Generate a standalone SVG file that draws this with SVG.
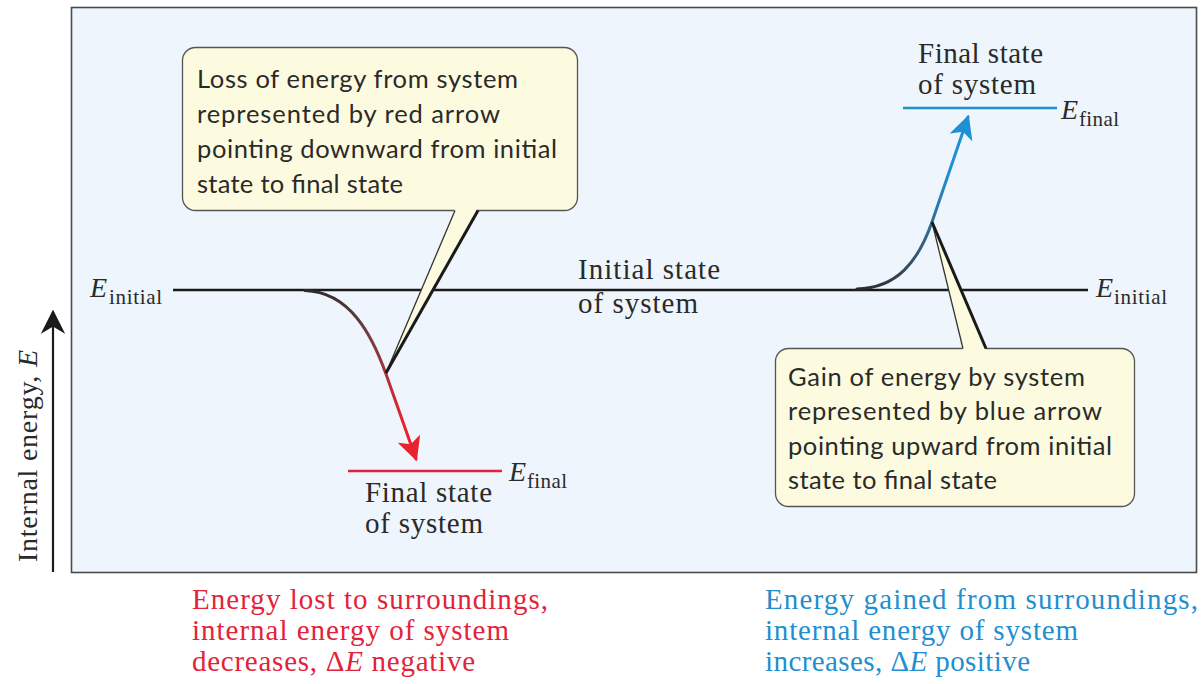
<svg xmlns="http://www.w3.org/2000/svg" width="1201" height="684" viewBox="0 0 1201 684">
  <defs>
    <style>
      .serif { font-family: "Liberation Serif", "Times New Roman", serif; fill: #2a2a2a; }
      .lbl { font-size: 29px; }
      .E { font-size: 28px; font-style: italic; }
      .sub { font-size: 21px; }
      .it { font-style: italic; }
      .cap { font-size: 29px; }
      .call { font-family: Lato, "Open Sans", sans-serif; font-size: 25.5px; fill: #2a2a2a; }
      .box { fill: #fdfbdf; stroke: #555; stroke-width: 1.3; }
      .red { fill: #e2233b; }
      .blue { fill: #1f8fcf; }
    </style>
    <linearGradient id="gRed" gradientUnits="userSpaceOnUse" x1="305" y1="290" x2="400" y2="420">
      <stop offset="0" stop-color="#2a2a2a"/>
      <stop offset="0.45" stop-color="#6e4040"/>
      <stop offset="1" stop-color="#e8222e"/>
    </linearGradient>
    <linearGradient id="gBlue" gradientUnits="userSpaceOnUse" x1="857" y1="289" x2="950" y2="170">
      <stop offset="0" stop-color="#2a2a2a"/>
      <stop offset="0.45" stop-color="#3a5a78"/>
      <stop offset="1" stop-color="#1e90d6"/>
    </linearGradient>
    <marker id="headRed" viewBox="0 0 10 10" refX="9" refY="5" markerWidth="8" markerHeight="8" markerUnits="strokeWidth" orient="auto">
      <path d="M0,0 L10,5 L0,10 L2.5,5 Z" fill="#e8222e"/>
    </marker>
    <marker id="headBlue" viewBox="0 0 10 10" refX="9" refY="5" markerWidth="8" markerHeight="8" markerUnits="strokeWidth" orient="auto">
      <path d="M0,0 L10,5 L0,10 L2.5,5 Z" fill="#1e90d6"/>
    </marker>
    <marker id="headAxis" viewBox="0 0 10 10" refX="9" refY="5" markerWidth="11" markerHeight="11" markerUnits="strokeWidth" orient="auto">
      <path d="M0,0 L10,5 L0,10 L3,5 Z" fill="#1a1a1a"/>
    </marker>
  </defs>

  <!-- panel -->
  <rect id="panel" x="71.5" y="7.5" width="1125" height="565" fill="#eef5fc" stroke="#4a4a4a" stroke-width="1.6"/>

  <!-- axis -->
  <g id="axis">
    <line x1="53" y1="572" x2="53" y2="312" stroke="#1a1a1a" stroke-width="2.2" marker-end="url(#headAxis)"/>
    <text class="serif" font-size="28" transform="translate(37,562) rotate(-90)" textLength="212">Internal energy, <tspan class="it">E</tspan></text>
  </g>

  <!-- energy levels -->
  <g id="initial-level">
    <line x1="173" y1="290" x2="1088" y2="290" stroke="#1a1a1a" stroke-width="2.5"/>
    <text class="serif E" x="90" y="297">E</text>
    <text class="serif sub" x="109" y="304" textLength="53">initial</text>
    <text class="serif E" x="1096" y="297">E</text>
    <text class="serif sub" x="1114" y="304" textLength="53">initial</text>
    <text class="serif lbl" x="578" y="279" textLength="142">Initial state</text>
    <text class="serif lbl" x="578" y="313" textLength="120">of system</text>
  </g>

  <g id="final-level-loss">
    <line x1="348" y1="471" x2="502" y2="471" stroke="#e2233b" stroke-width="2.5"/>
    <text class="serif E" x="509" y="481">E</text>
    <text class="serif sub" x="527" y="488" textLength="40">final</text>
    <text class="serif lbl" x="365" y="502" textLength="127">Final state</text>
    <text class="serif lbl" x="365" y="533" textLength="118">of system</text>
  </g>

  <g id="final-level-gain">
    <line x1="903" y1="108" x2="1057" y2="108" stroke="#1f8fcf" stroke-width="2.5"/>
    <text class="serif E" x="1061" y="119">E</text>
    <text class="serif sub" x="1079" y="126" textLength="40">final</text>
    <text class="serif lbl" x="918" y="63" textLength="125">Final state</text>
    <text class="serif lbl" x="918" y="94" textLength="118">of system</text>
  </g>

  <!-- connectors -->
  <g id="connectors" fill="none">
    <path d="M305,290.5 C350,292 372,335 386,374 L416,459" stroke="url(#gRed)" stroke-width="3" stroke-linecap="round" marker-end="url(#headRed)"/>
    <path d="M857,289 C897,288 918,262 932,222 L968,117" stroke="url(#gBlue)" stroke-width="3" stroke-linecap="round" marker-end="url(#headBlue)"/>
  </g>

  <!-- callout: loss -->
  <g id="callout-loss">
    <rect class="box" x="182.5" y="47.5" width="395" height="163" rx="13"/>
    <polygon points="455,209 477,209 386,373" fill="#fdfbdf"/>
    <line x1="455" y1="210.5" x2="386" y2="373" stroke="#333" stroke-width="1.3"/>
    <line x1="478" y1="210.5" x2="386" y2="373" stroke="#1a1a1a" stroke-width="3"/>
    <text class="call" x="197" y="88" textLength="321">Loss of energy from system</text>
    <text class="call" x="197" y="123" textLength="303">represented by red arrow</text>
    <text class="call" x="197" y="158" textLength="360">pointing downward from initial</text>
    <text class="call" x="197" y="193" textLength="206">state to final state</text>
  </g>

  <!-- callout: gain -->
  <g id="callout-gain">
    <rect class="box" x="775.5" y="348.5" width="359" height="158" rx="13"/>
    <polygon points="932,222 963,350 986,350" fill="#fdfbdf"/>
    <line x1="932" y1="222" x2="963" y2="348.5" stroke="#333" stroke-width="1.3"/>
    <line x1="932" y1="222" x2="986" y2="348.5" stroke="#1a1a1a" stroke-width="3"/>
    <text class="call" x="788" y="386" textLength="297">Gain of energy by system</text>
    <text class="call" x="788" y="420" textLength="314">represented by blue arrow</text>
    <text class="call" x="788" y="455" textLength="324">pointing upward from initial</text>
    <text class="call" x="788" y="489" textLength="209">state to final state</text>
  </g>

  <!-- captions -->
  <g id="caption-loss">
    <text class="serif cap red" x="192" y="609" textLength="356">Energy lost to surroundings,</text>
    <text class="serif cap red" x="192" y="640" textLength="317">internal energy of system</text>
    <text class="serif cap red" x="192" y="671" textLength="283">decreases, Δ<tspan class="it">E</tspan> negative</text>
  </g>
  <g id="caption-gain">
    <text class="serif cap blue" x="765" y="609" textLength="433">Energy gained from surroundings,</text>
    <text class="serif cap blue" x="765" y="640" textLength="313">internal energy of system</text>
    <text class="serif cap blue" x="765" y="671" textLength="265">increases, Δ<tspan class="it">E</tspan> positive</text>
  </g>
</svg>
